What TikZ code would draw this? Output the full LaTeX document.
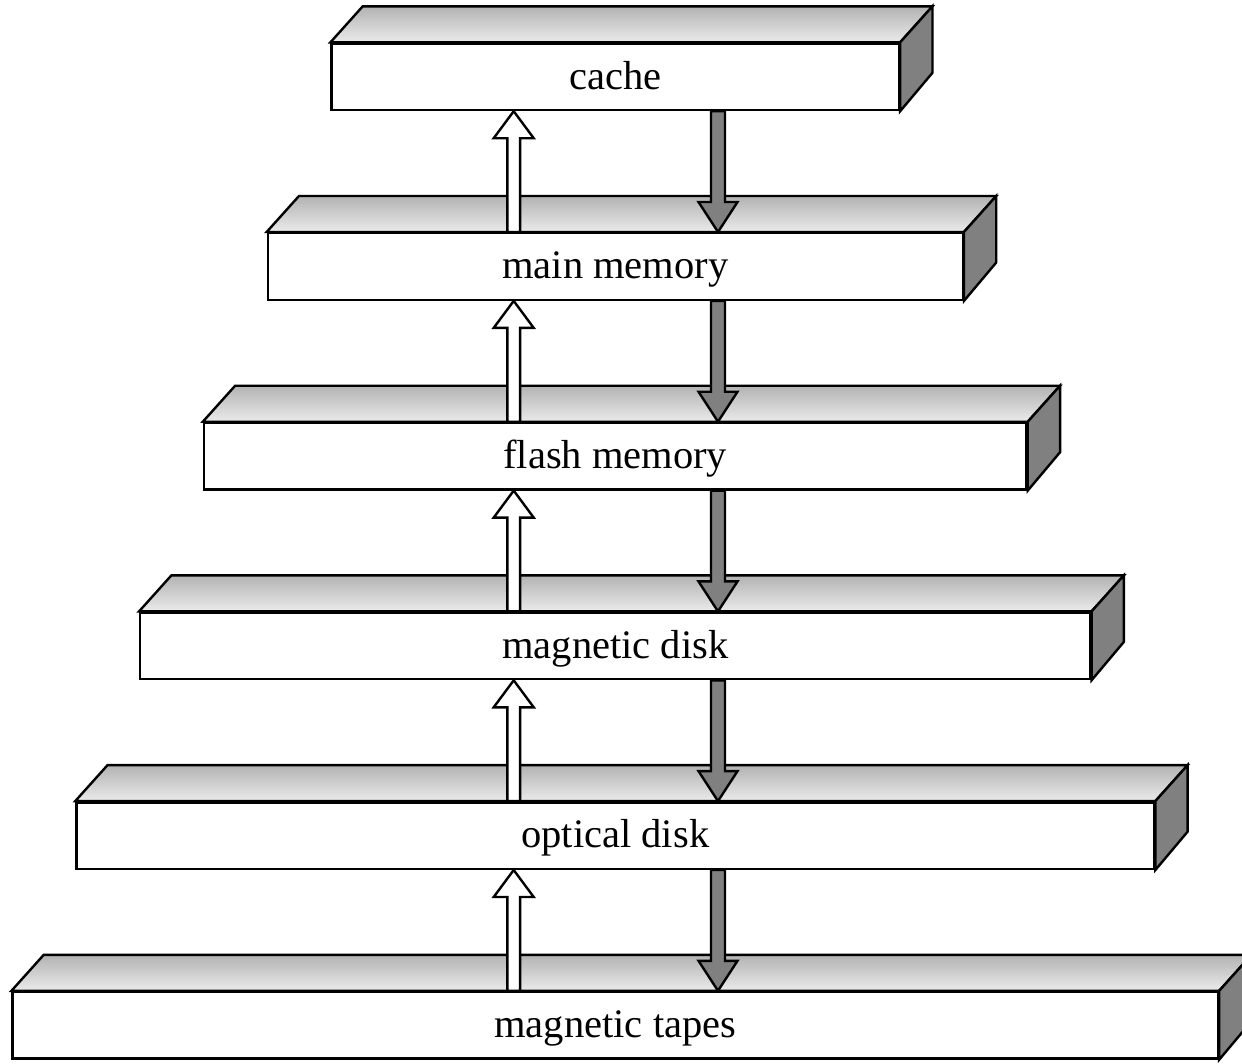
\documentclass[tikz,border=0pt]{standalone}
\usepackage{fontspec}
\setmainfont{Liberation Serif}
\usetikzlibrary{calc}
\definecolor{sidegray}{gray}{0.5}
\definecolor{topdark}{gray}{0.70}
\definecolor{toplight}{gray}{0.92}
\tikzset{
  level/.style={shape=rectangle,draw=black,fill=white,inner sep=0pt,line width=2.4pt,
    minimum height=66.5pt,text height=24.6pt,text depth=0pt,
    font=\fontsize{40.5}{48}\selectfont},
  face/.style={draw=black,line width=2.4pt,line join=miter},
  upblock/.style={draw=black,fill=white,line width=2.4pt},
  downblock/.style={draw=black,fill=sidegray,line width=2.4pt}
}
\begin{document}
\begin{tikzpicture}[x=1pt,y=-1pt,line width=2.4pt]
    \clip (0,0) rectangle (1242,1063);
    \useasboundingbox (0,0) rectangle (1242,1063);
    % front faces
    \node[level,minimum width=567.3pt] (cache) at (615.3,76.75) {cache};
    \node[level,minimum width=694.9pt] (mainmem) at (615.3,266.45) {main memory};
    \node[level,minimum width=822.5pt] (flash) at (615.3,456.15) {flash memory};
    \node[level,minimum width=950.1pt] (magdisk) at (615.3,645.85) {magnetic disk};
    \node[level,minimum width=1077.7pt] (optdisk) at (615.3,835.55) {optical disk};
    \node[level,minimum width=1205.3pt] (tapes) at (615.3,1025.25) {magnetic tapes};
    % top and side faces
    \foreach \n in {cache,mainmem,flash,magdisk,optdisk,tapes} {
        \path[top color=topdark,bottom color=toplight] (\n.north west) -- ++(32.3,-36)
            -- ($(\n.north east)+(32.3,-36)$) -- (\n.north east) -- cycle;
        \draw[face] (\n.north west) -- ++(32.3,-36)
            -- ($(\n.north east)+(32.3,-36)$) -- (\n.north east) -- cycle;
        \draw[face,fill=sidegray] (\n.north east) -- ++(32.3,-36) -- ++(0,66.5)
            -- (\n.south east) -- cycle;
    }
    % arrows between levels
    \coordinate (upx) at (513.7,0);
    \coordinate (dnx) at (718,0);
    \foreach \hi/\lo in {cache/mainmem,mainmem/flash,flash/magdisk,magdisk/optdisk,optdisk/tapes} {
        \draw[upblock] ($(\lo.north -| upx)+(-6.4,0)$) -- ($(\hi.south -| upx)+(-6.4,27)$)
            -- ($(\hi.south -| upx)+(-20,27)$) -- (\hi.south -| upx)
            -- ($(\hi.south -| upx)+(20,27)$) -- ($(\hi.south -| upx)+(6.4,27)$)
            -- ($(\lo.north -| upx)+(6.4,0)$) -- cycle;
        \draw[downblock] ($(\hi.south -| dnx)+(-7,0)$) -- ($(\lo.north -| dnx)+(-7,-30)$)
            -- ($(\lo.north -| dnx)+(-19.5,-30)$) -- (\lo.north -| dnx)
            -- ($(\lo.north -| dnx)+(19.5,-30)$) -- ($(\lo.north -| dnx)+(7,-30)$)
            -- ($(\hi.south -| dnx)+(7,0)$) -- cycle;
    }
\end{tikzpicture}
\end{document}
